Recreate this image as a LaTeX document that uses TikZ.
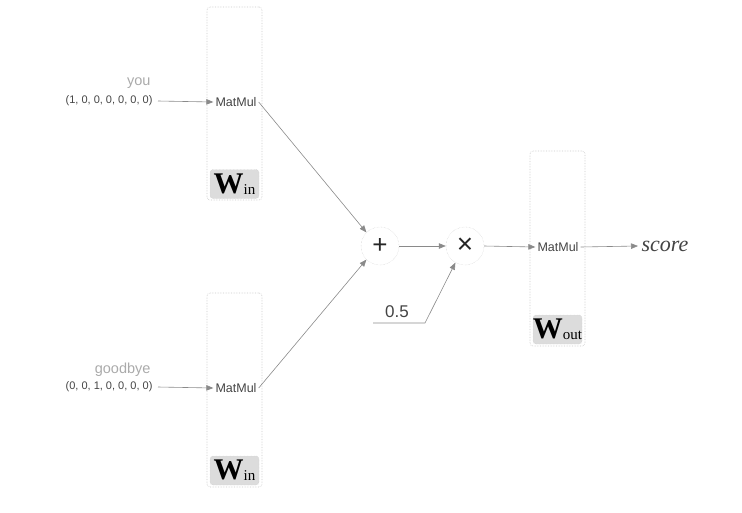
\documentclass[tikz,border=0pt]{standalone}
\usepackage{fontspec}
\setmainfont{Liberation Serif}
\setsansfont{Liberation Sans}
\usetikzlibrary{arrows.meta}
\definecolor{boxline}{HTML}{C8C8C8}
\definecolor{wfill}{HTML}{DCDCDC}
\definecolor{arr}{HTML}{8A8A8A}
\definecolor{txt}{HTML}{444444}
\definecolor{lighttxt}{HTML}{AAAAAA}
\tikzset{
  layerbox/.style={draw=boxline, densely dotted, rounded corners=3pt, line width=0.6pt, minimum width=55pt, inner sep=0pt},
  wbox/.style={draw=boxline, densely dotted, fill=wfill, rounded corners=3pt, minimum width=49pt, minimum height=29pt, inner sep=0pt},
  mm/.style={font=\sffamily\fontsize{12.5}{13}\selectfont, text=txt, inner sep=2pt},
  vec/.style={font=\sffamily\fontsize{11}{12}\selectfont, text=txt, anchor=east},
  word/.style={font=\sffamily\fontsize{14.5}{15}\selectfont, text=lighttxt},
  opnode/.style={circle, draw=boxline, densely dotted, minimum size=38pt, inner sep=0pt, text=black!85},
  conn/.style={draw=arr, line width=0.6pt, -{Triangle[length=7pt,width=5.5pt]}},
}
\newcommand{\wlab}[1]{\fontsize{30}{30}\selectfont\textbf{W}\raisebox{-1pt}{\fontsize{15}{15}\selectfont #1}}
\begin{document}
\begin{tikzpicture}[x=1pt,y=-1pt]
\useasboundingbox (0,0) rectangle (742,512);
% boxes
\node[layerbox, minimum height=193pt] (box1) at (234.5,103.5) {};
\node[layerbox, minimum height=194pt] (box2) at (234.5,390) {};
\node[layerbox, minimum height=195pt] (box3) at (557.5,248.5) {};
\node[wbox] (w1) at (234.5,184) {};
\node[wbox] (w2) at (234.5,470.5) {};
\node[wbox] (w3) at (557.5,329.5) {};
\node (w1t) at (w1) {\wlab{in}};
\node (w2t) at (w2) {\wlab{in}};
\node (w3t) at (w3) {\wlab{out}};
% matmul labels
\node[mm] (m1) at (236,102) {MatMul};
\node[mm] (m2) at (236,388) {MatMul};
\node[mm] (m3) at (558,247) {MatMul};
% inputs
\node[word, anchor=east] (you) at (154,83) {you};
\node[vec] (v1) at (156,101) {(1, 0, 0, 0, 0, 0, 0)};
\node[word, anchor=east] (gb) at (154,370) {goodbye};
\node[vec] (v2) at (156,387) {(0, 0, 1, 0, 0, 0, 0)};
\draw[conn] (v1.east) ++(2,0) coordinate (s1) -- (m1.west);
\draw[conn] (v2.east) ++(2,0) coordinate (s2) -- (m2.west);
% ops
\node[opnode, font=\sffamily\fontsize{26}{26}\selectfont] (plus) at (380,246) {+};
\node[opnode, font=\sffamily\fontsize{28}{28}\selectfont] (times) at (465,246) {×};
\draw[conn] (m1.east) -- (plus.135);
\draw[conn] (m2.east) -- (plus.225);
\draw[conn] (plus.east) -- (times.west);
\draw[conn] (times.east) -- (m3.west);
% 0.5
\node[font=\sffamily\fontsize{17}{18}\selectfont, text=txt] (half) at (397,312) {0.5};
\coordinate (hl) at (373,323);
\coordinate (hr) at (425,323);
\draw[conn] (hl) -- (hr) -- (times.240);
% score
\node[font=\itshape\fontsize{22}{22}\selectfont, text=txt, anchor=west] (score) at (638,246) {score};
\draw[conn] (m3.east) -- (score.west);
\end{tikzpicture}
\end{document}
